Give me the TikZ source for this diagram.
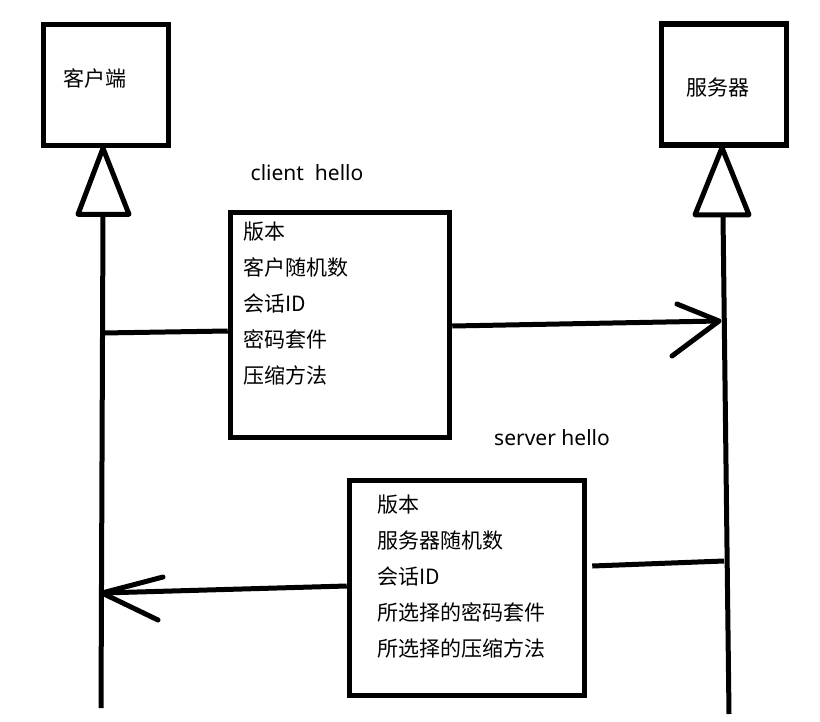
\documentclass[tikz,border=0pt]{standalone}
\usepackage{fontspec}
\setmainfont{Noto Sans CJK SC}
\newfontfamily\latinfont{Noto Sans}
\usetikzlibrary{positioning}

\tikzset{
  party/.style={draw, line width=5.5pt, minimum width=125pt, minimum height=121pt, inner sep=0pt},
  msgbox/.style={draw, line width=5.5pt, inner sep=0pt},
  txt/.style={inner sep=0pt, font=\fontsize{21}{25}\selectfont},
  field/.style={txt, anchor=west},
  tag/.style={inner sep=0pt, font=\latinfont\fontsize{21}{25}\selectfont},
  fatline/.style={line width=5pt},
  barb/.style={line width=5pt, line cap=round},
}

\begin{document}
\begin{tikzpicture}[x=1pt, y=-1pt]
\useasboundingbox (0,0) rectangle (820,721);

% the two sides
\node[party] (client) at (106,85) {};
\node[party] (server) at (724,84.5) {};
\node[txt] (cname) at (95,78) {客户端};
\node[txt] (sname) at (718,88) {服务器};

% hollow triangles below the boxes
\draw[fatline, line join=round] ([xshift=-3pt]client.south) -- ++(-25,66) -- ++(51,0) -- cycle;
\draw[fatline, line join=round] ([xshift=-2pt]server.south) -- ++(-27,67) -- ++(54,0) -- cycle;

% lifelines
\coordinate (cbot) at (101,708);
\coordinate (sbot) at (729,714);
\draw[fatline] ([xshift=-3pt,yshift=-66pt]client.south) -- (cbot);
\draw[fatline] ([xshift=-1pt,yshift=-67pt]server.south) -- (sbot);

% message boxes
\node[msgbox, minimum width=219pt, minimum height=225pt] (hello1) at (340,325) {};
\node[msgbox, minimum width=235pt, minimum height=215pt] (hello2) at (467,588) {};
\node[tag] (chello) at (307,173) {client\ \ hello};
\node[tag] (shello) at (552,438) {server hello};

\foreach \f [count=\i] in {版本, 客户随机数, 会话ID, 密码套件, 压缩方法}
  \node[field] (cf\i) at (243, {196.2+35.8*\i}) {\f};
\foreach \f [count=\i] in {版本, 服务器随机数, 会话ID, 所选择的密码套件, 所选择的压缩方法}
  \node[field] (sf\i) at (377, {469.2+35.8*\i}) {\f};

% client hello
\coordinate (c1) at (102,333);
\coordinate (s1) at (719,321);
\draw[fatline] (c1) -- ([yshift=-6pt]hello1.west);
\draw[fatline] ([yshift=-1pt]hello1.east) -- (s1);
\draw[barb] (s1) -- ++(-42,-17) (s1) -- ++(-47,35);

% server hello
\coordinate (s2) at (724,561);
\coordinate (c2) at (102,593);
\draw[fatline] (s2) -- ([xshift=5pt,yshift=22pt]hello2.east);
\draw[fatline] ([yshift=2pt]hello2.west) -- (c2);
\draw[barb] (c2) -- ++(61,-16) (c2) -- ++(56,27);
\end{tikzpicture}
\end{document}
